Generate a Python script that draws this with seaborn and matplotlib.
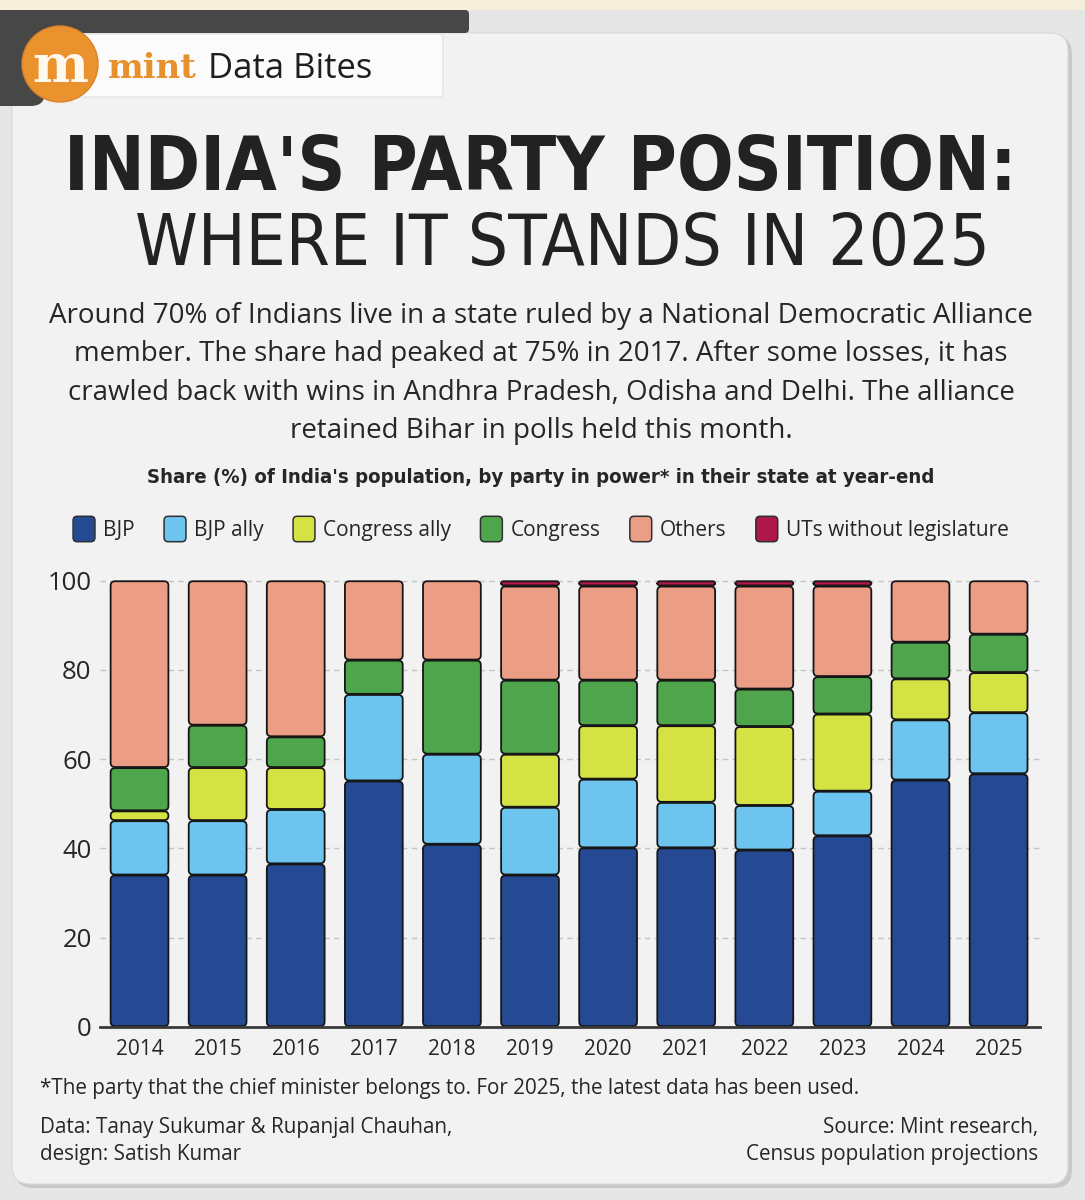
import matplotlib
matplotlib.use("Agg")
import matplotlib.pyplot as plt
import seaborn as sns
import numpy as np
from matplotlib.patches import FancyBboxPatch, Rectangle, Ellipse
from matplotlib.legend_handler import HandlerPatch
from matplotlib import font_manager as fm

# ---------------- data ----------------
years = ['2014', '2015', '2016', '2017', '2018', '2019',
         '2020', '2021', '2022', '2023', '2024', '2025']
bjp           = [34.0, 34.0, 36.5, 55.1, 40.9, 34.0, 40.1, 40.1, 39.6, 42.8, 55.3, 56.7]
bjp_ally      = [12.2, 12.2, 12.2, 19.4, 20.2, 15.2, 15.4, 10.2, 10.0, 10.0, 13.5, 13.7]
congress_ally = [2.2, 11.9, 9.4, 0.0, 0.0, 11.9, 12.0, 17.2, 17.7, 17.3, 9.2, 9.0]
congress      = [9.7, 9.5, 6.9, 7.7, 21.1, 16.6, 10.2, 10.2, 8.4, 8.4, 8.2, 8.6]
others        = [41.9, 32.4, 35.0, 17.8, 17.8, 21.1, 21.1, 21.1, 23.1, 20.3, 13.8, 12.0]
uts           = [0.0, 0.0, 0.0, 0.0, 0.0, 1.2, 1.2, 1.2, 1.2, 1.2, 0.0, 0.0]

series_names = ['BJP', 'BJP ally', 'Congress ally', 'Congress', 'Others',
                'UTs without legislature']
series_colors = ['#254a93', '#6cc4ef', '#d4e244', '#4ea54b', '#eb9e85', '#ae1747']
yticks = [0, 20, 40, 60, 80, 100]

title1 = "INDIA'S PARTY POSITION:"
title2 = "WHERE IT STANDS IN 2025"
body = ["Around 70% of Indians live in a state ruled by a National Democratic Alliance",
        "member. The share had peaked at 75% in 2017. After some losses, it has",
        "crawled back with wins in Andhra Pradesh, Odisha and Delhi. The alliance",
        "retained Bihar in polls held this month."]
chart_title = "Share (%) of India's population, by party in power* in their state at year-end"
footnote = "*The party that the chief minister belongs to. For 2025, the latest data has been used."
credit_left = ["Data: Tanay Sukumar & Rupanjal Chauhan,", "design: Satish Kumar"]
credit_right = ["Source: Mint research,", "Census population projections"]

# ---------------- fonts ----------------
sns.set_style("white")
avail = {f.name for f in fm.fontManager.ttflist}
def pick(*names):
    for n in names:
        if n in avail:
            return n
    return 'DejaVu Sans'
BODY = pick('Open Sans', 'Noto Sans', 'DejaVu Sans')
NARROW = 'Liberation Sans Narrow' if 'Liberation Sans Narrow' in avail else 'DejaVu Sans'
plt.rcParams['font.family'] = [BODY, 'DejaVu Sans']
TXT = '#262626'

W, H = 1085, 1200
fig = plt.figure(figsize=(W / 100, H / 100), dpi=100)
fig.patch.set_facecolor('#e6e6e6')
renderer = fig.canvas.get_renderer()

def fbox(x0, y0, x1, y1, r, **kw):
    p = FancyBboxPatch((x0 / W, 1 - y1 / H), (x1 - x0) / W, (y1 - y0) / H,
                       boxstyle=f"round,pad=0,rounding_size={r / W}",
                       mutation_aspect=W / H, transform=fig.transFigure, **kw)
    fig.add_artist(p)
    return p

def ftext(x, y, s, **kw):
    kw.setdefault('color', TXT)
    return fig.text(x / W, 1 - y / H, s, **kw)

def fit(t, width):
    for _ in range(4):
        w = t.get_window_extent(renderer).width
        t.set_fontsize(t.get_fontsize() * width / w)
    return t

# ---------------- background / header ----------------
fig.add_artist(Rectangle((0, 1 - 10 / H), 1, 10 / H, transform=fig.transFigure,
                         fc='#f4eedb', ec='none', zorder=0))
fbox(15, 36, 1072, 1188, 18, fc='#c9c9c9', ec='none', zorder=0.5)       # shadow
fbox(12, 33, 1068, 1184, 18, fc='#f2f2f2', ec='#d9d9d9', lw=0.8, zorder=1)
fbox(-20, 10, 469, 33, 4, fc='#474747', ec='none', zorder=2)
fbox(-20, 10, 45, 106, 14, fc='#474747', ec='none', zorder=2)
fbox(60, 34, 443, 97, 4, fc='#fbfbfb', ec='#e0e0e0', lw=0.8, zorder=2.5)
fig.add_artist(Ellipse((60 / W, 1 - 64 / H), 76 / W, 76 / H, transform=fig.transFigure,
                       fc='#ea922d', ec='#d9822a', lw=1, zorder=3))
t = ftext(60, 82, 'm', fontsize=44, fontweight='bold', family='DejaVu Serif',
          color='#fff8ec', ha='center', va='baseline', zorder=4)
fit(t, 56)
t = ftext(108, 78, 'mint', fontsize=30, fontweight='bold', family='DejaVu Serif',
          color='#e8902c', ha='left', va='baseline', zorder=4)
fit(t, 89)
t = ftext(208, 78, 'Data Bites', fontsize=25, ha='left', va='baseline', zorder=4,
          color='#1e1e1e')
fit(t, 164)

# titles
t = ftext(540, 190, title1, fontsize=60, fontweight='heavy', family=NARROW,
          fontstretch='condensed', ha='center', va='baseline', zorder=4, color='#222222')
fit(t, 952)
t = ftext(562, 265, title2, fontsize=60, fontweight='light', family=NARROW,
          fontstretch='condensed', ha='center', va='baseline', zorder=4, color='#222222')
fit(t, 855)

bt = ftext(541, 323, body[0], fontsize=18, ha='center', va='baseline', zorder=4)
fit(bt, 987)
fs_body = bt.get_fontsize()
for k, line in enumerate(body[1:], start=1):
    ftext(541, 323 + 38.3 * k, line, fontsize=fs_body, ha='center', va='baseline', zorder=4)

t = ftext(541, 483, chart_title, fontsize=15, fontweight='bold', family=NARROW,
          fontstretch='condensed', ha='center', va='baseline', zorder=4)
fit(t, 787)

# ---------------- chart ----------------
ax_left, ax_right = 100, 1040
y0_px, y100_px = 1026.7, 580.7
ppu = (y0_px - y100_px) / 100
ymax = 101
ax = fig.add_axes([ax_left / W, 1 - y0_px / H, (ax_right - ax_left) / W, ppu * ymax / H])
ax.set_facecolor('none')
ax.set_zorder(5)

vals = np.array([bjp, bjp_ally, congress_ally, congress, others, uts])
cum = vals.cumsum(axis=0)
bottoms = np.vstack([np.zeros(len(years)), cum[:-1]])
nl = len(series_names)
for i in reversed(range(nl)):
    sns.barplot(x=years, y=cum[i], color=series_colors[i], width=0.74,
                saturation=1, linewidth=0, ax=ax)

ax.set_xlim(-0.506, 11.53)
ax.set_ylim(0, ymax)
ax_w_px = ax_right - ax_left
asp = (ymax / (ppu * ymax)) / ((11.53 + 0.506) / ax_w_px)

for k, cont in enumerate(list(ax.containers)):
    i = nl - 1 - k
    for j, rect in enumerate(cont.patches):
        x, w, top = rect.get_x(), rect.get_width(), rect.get_height()
        bot = bottoms[i][j]
        rect.remove()
        h = top - bot
        if h <= 0.05:
            continue
        rs = min(0.055, (h / asp) / 2 * 0.9)
        ax.add_patch(FancyBboxPatch((x, bot + 0.12), w, h - 0.24,
                                    boxstyle=f"round,pad=0,rounding_size={rs}",
                                    mutation_aspect=asp, fc=series_colors[i],
                                    ec='#161616', lw=1.3, zorder=3, clip_on=False))

ax.set_yticks(yticks)
ax.set_yticklabels([str(v) for v in yticks])
ax.yaxis.grid(True, ls=(0, (4, 3)), color='#c4c4c4', lw=1.0)
ax.set_axisbelow(True)
ax.xaxis.grid(False)
for s in ['left', 'right', 'top']:
    ax.spines[s].set_visible(False)
ax.spines['bottom'].set_color('#3a3a3a')
ax.spines['bottom'].set_linewidth(2)
ax.spines['bottom'].set_zorder(4)
ax.tick_params(axis='y', length=0, pad=6, labelsize=18.5, labelcolor=TXT)
ax.tick_params(axis='x', length=0, pad=9, labelsize=15, labelcolor=TXT)
ax.set_xlabel('')
ax.set_ylabel('')

# legend
def box_patch(legend, orig_handle, xdescent, ydescent, width, height, fontsize):
    return FancyBboxPatch((-xdescent, -ydescent), width, height,
                          boxstyle="round,pad=0,rounding_size=3")
handles = [matplotlib.patches.Patch(facecolor=c, edgecolor='#303030', lw=1.1, label=n)
           for n, c in zip(series_names, series_colors)]
leg = fig.legend(handles=handles, loc='center', bbox_to_anchor=(541 / W, 1 - 529 / H),
                 ncol=6, frameon=False, fontsize=15, handlelength=1.05,
                 handleheight=1.5, handletextpad=0.4, columnspacing=1.4,
                 handler_map={matplotlib.patches.Patch: HandlerPatch(patch_func=box_patch)})
for tx in leg.get_texts():
    tx.set_color(TXT)

# footer
t = ftext(40, 1094, footnote, fontsize=15, ha='left', va='baseline', zorder=4)
fit(t, 818)
fs_f = t.get_fontsize()
ftext(40, 1133, credit_left[0], fontsize=fs_f, ha='left', va='baseline', zorder=4)
ftext(40, 1160, credit_left[1], fontsize=fs_f, ha='left', va='baseline', zorder=4)
ftext(1038, 1133, credit_right[0], fontsize=fs_f, ha='right', va='baseline', zorder=4)
ftext(1038, 1160, credit_right[1], fontsize=fs_f, ha='right', va='baseline', zorder=4)

fig.savefig('out.png', dpi=100, facecolor=fig.get_facecolor())
